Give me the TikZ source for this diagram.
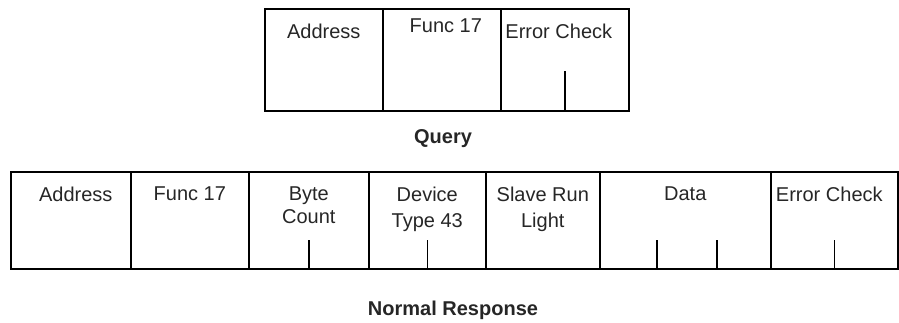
\documentclass[tikz,border=0pt]{standalone}
\usepackage{fontspec}
\setmainfont{Liberation Sans}
\tikzset{fieldbox/.style={
    rectangle,
    draw=black,
    anchor=north west,
    inner sep=0pt,
    line width=1.6pt
  },
  querybox/.style={fieldbox,minimum height=102},
  respbox/.style={fieldbox,minimum height=97},
  fieldtext/.style={anchor=north,yshift=-16,inner sep=0pt,align=center},
  titletext/.style={font=\bfseries\fontsize{20}{24}\selectfont},
  tickline/.style={draw=black,line width=1.6pt},
}
\begin{document}
\begin{tikzpicture}[x=1pt,y=-1pt,font=\fontsize{20}{26}\selectfont,color=black!85]
  \useasboundingbox (0,0) rectangle (899,322);
  % query frame
  \node [querybox,minimum width=118,label={[fieldtext]north:Address}] (qaddr) at (264,8) {};
  \node [querybox,minimum width=118,label={[fieldtext,yshift=5,xshift=4]north:Func 17}] (qfunc) at (382,8) {};
  \node [querybox,minimum width=128,label={[fieldtext,xshift=-6]north:Error Check}] (qcrc) at (500,8) {};
  \draw[tickline] (qcrc.south) -- ++(0,-41);
  \node [titletext] (query) at (443,139) {Query};
  % normal response frame
  \node [respbox,minimum width=120,label={[fieldtext,xshift=5]north:Address}] (raddr) at (10,171) {};
  \node [respbox,minimum width=118,label={[fieldtext]north:Func 17}] (rfunc) at (130,171) {};
  \node [respbox,minimum width=120,label={[fieldtext]north:Byte\\[-3pt]Count}] (rcount) at (248,171) {};
  \node [respbox,minimum width=117,label={[fieldtext]north:Device\\Type 43}] (rtype) at (368,171) {};
  \node [respbox,minimum width=114,label={[fieldtext]north:Slave Run\\Light}] (rlight) at (485,171) {};
  \node [respbox,minimum width=171,label={[fieldtext]north:Data}] (rdata) at (599,171) {};
  \node [respbox,minimum width=127,label={[fieldtext,xshift=-5]north:Error Check}] (rcrc) at (770,171) {};
  \draw[tickline] (rcount.south) -- ++(0,-30);
  \draw[tickline] (rtype.south) -- ++(0,-30);
  \draw[tickline] ([xshift=58]rdata.south west) -- ++(0,-30);
  \draw[tickline] ([xshift=118]rdata.south west) -- ++(0,-30);
  \draw[tickline] (rcrc.south) -- ++(0,-30);
  \node [titletext] (normresp) at (453,310) {Normal Response};
\end{tikzpicture}
\end{document}
